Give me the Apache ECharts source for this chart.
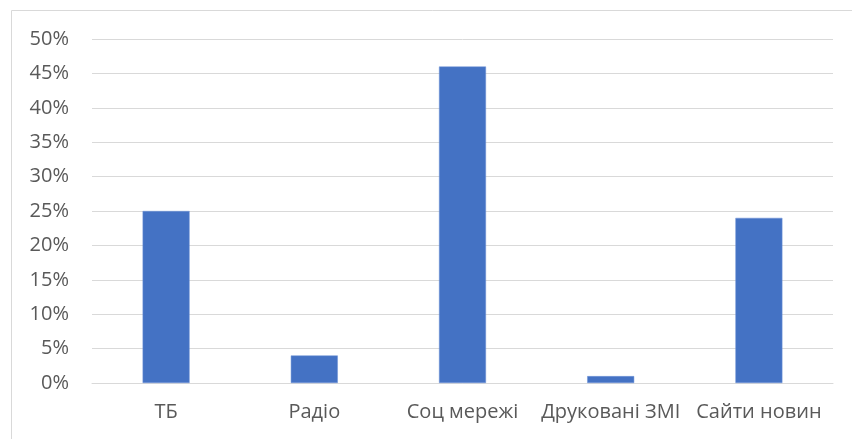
<!DOCTYPE html>
<html>
<head>
<meta charset="utf-8">
<script src="https://cdn.jsdelivr.net/npm/echarts@6/dist/echarts.min.js"></script>
<style>
  html, body { margin: 0; padding: 0; background: #fff; }
  #chart { width: 852px; height: 439px; }
</style>
</head>
<body>
<div id="chart"></div>
<script>
// Share of respondents by news source
const categories = ['ТБ', 'Радіо', 'Соц мережі', 'Друковані ЗМІ', 'Сайти новин'];
const shares = [25, 4, 46, 1, 24];
const yTicks = [0, 5, 10, 15, 20, 25, 30, 35, 40, 45, 50];

const chart = echarts.init(document.getElementById('chart'));
const font = "'Open Sans', 'Noto Sans', sans-serif";

chart.setOption({
  animation: false,
  graphic: [{
    type: 'rect',
    shape: { x: 11.5, y: 10.5, width: 860, height: 460 },
    style: { fill: 'none', stroke: '#d9d9d9', lineWidth: 1 },
    silent: true
  }],
  grid: { left: 92, right: 19, top: 39, bottom: 56, containLabel: false },
  xAxis: {
    type: 'category',
    data: categories,
    axisLine: { show: true, lineStyle: { color: '#d9d9d9', width: 1 } },
    axisTick: { show: false },
    axisLabel: { color: '#595959', fontSize: 20, fontFamily: font, margin: 19, interval: 0 }
  },
  yAxis: {
    type: 'value',
    min: yTicks[0],
    max: yTicks[yTicks.length - 1],
    interval: 5,
    axisLine: { show: false },
    axisTick: { show: false },
    splitLine: { lineStyle: { color: '#d9d9d9', width: 1 } },
    axisLabel: { color: '#595959', fontSize: 20, fontFamily: font, margin: 23, formatter: '{value}%' }
  },
  series: [{
    type: 'bar',
    data: shares,
    barWidth: '31.7%',
    itemStyle: { color: '#4472C4', borderColor: '#6f93d6', borderWidth: 0.5 }
  }]
});
</script>
</body>
</html>
